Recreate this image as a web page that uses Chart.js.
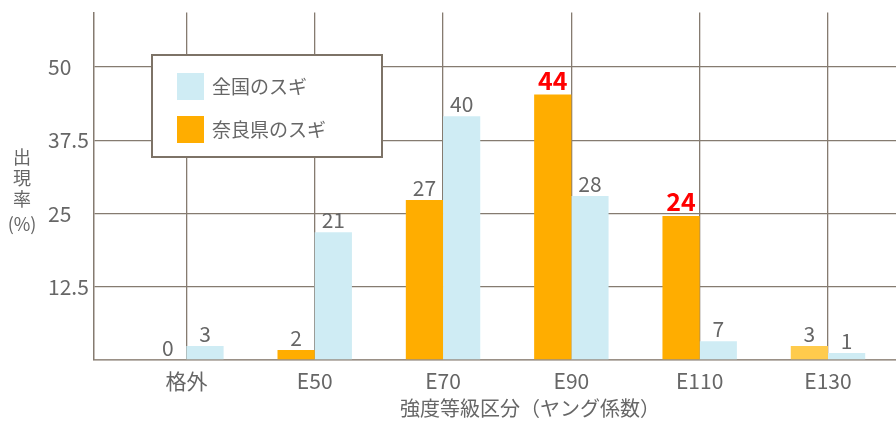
<!DOCTYPE html>
<html>
<head>
<meta charset="utf-8">
<script src="https://cdn.jsdelivr.net/npm/chart.js@4/dist/chart.umd.min.js"></script>
<style>
  html, body { margin: 0; padding: 0; background: #fff; }
  #wrap { width: 896px; height: 421px; position: relative; }
</style>
</head>
<body>
<div id="wrap"><canvas id="sugiChart"></canvas></div>
<script>
// 区分
const categories = ['格外', 'E50', 'E70', 'E90', 'E110', 'E130'];
// 棒の高さ
const naraValues = [0, 1.7, 27.3, 45.3, 24.6, 2.4];
const zenkokuValues = [2.4, 21.8, 41.6, 28.0, 3.2, 1.2];
// 棒の上の数値
const naraLabels = ['0', '2', '27', '44', '24', '3'];
const zenkokuLabels = ['3', '21', '40', '28', '7', '1'];
const naraHighlight = [false, false, false, true, true, false];
// 目盛
const yTicks = [12.5, 25, 37.5, 50];

const FONT = "'Noto Sans CJK JP', 'Noto Sans', sans-serif";
const TEXT = '#666666';
const GRID = '#857b70';

const naraColors = ['#FFAD00', '#FFAD00', '#FFAD00', '#FFAD00', '#FFAD00', '#FFCB4C'];

// 棒の上に数値を描く
const valueLabels = {
  id: 'valueLabels',
  afterDraw(chart) {
    const ctx = chart.ctx;
    const sets = [[naraLabels, naraHighlight], [zenkokuLabels, null]];
    ctx.save();
    ctx.textAlign = 'center';
    ctx.textBaseline = 'alphabetic';
    sets.forEach(([labels, hi], di) => {
      chart.getDatasetMeta(di).data.forEach((bar, i) => {
        const red = hi && hi[i];
        ctx.fillStyle = red ? '#ff0000' : TEXT;
        ctx.font = (red ? '600 25px ' : '21px ') + FONT;
        ctx.fillText(labels[i], bar.x, bar.y - (red ? 5 : 4));
      });
    });
    ctx.restore();
  }
};

// 凡例と軸タイトル
const extras = {
  id: 'extras',
  afterDraw(chart) {
    const ctx = chart.ctx;
    ctx.save();
    // 凡例
    ctx.fillStyle = '#fff';
    ctx.fillRect(152, 55, 230, 102);
    ctx.strokeStyle = '#7d7367';
    ctx.lineWidth = 2;
    ctx.strokeRect(152, 55, 230, 102);
    const items = [['全国のスギ', chart.data.datasets[1].backgroundColor], ['奈良県のスギ', '#FFAD00']];
    items.forEach(([txt, col], k) => {
      ctx.fillStyle = col;
      ctx.fillRect(177, 73 + k * 43, 27, 27);
      ctx.fillStyle = TEXT;
      ctx.font = '19px ' + FONT;
      ctx.textAlign = 'left';
      ctx.textBaseline = 'middle';
      ctx.fillText(txt, 212, 87 + k * 43);
    });
    // 縦軸タイトル
    ctx.fillStyle = TEXT;
    ctx.font = '18px ' + FONT;
    ctx.textAlign = 'center';
    ['出', '現', '率', '(%)'].forEach((t, k) => {
      ctx.fillText(t, 22, 157 + k * 21 + (k === 3 ? 4 : 0));
    });
    // 横軸タイトル
    ctx.font = '20px ' + FONT;
    ctx.fillText('強度等級区分（ヤング係数）', 530, 408);
    ctx.restore();
  }
};

new Chart(document.getElementById('sugiChart'), {
  type: 'bar',
  data: {
    datasets: [{
      label: '奈良県のスギ',
      data: categories.map((c, i) => ({ x: i, y: naraValues[i] })),
      backgroundColor: naraColors
    }, {
      label: '全国のスギ',
      data: categories.map((c, i) => ({ x: i, y: zenkokuValues[i] })),
      backgroundColor: '#CFECF4'
    }]
  },
  options: {
    responsive: true,
    maintainAspectRatio: false,
    animation: false,
    layout: { padding: { left: 48, top: 12, right: 0, bottom: 0 } },
    datasets: { bar: { categoryPercentage: 0.58, barPercentage: 1.0 } },
    plugins: { legend: { display: false }, tooltip: { enabled: false } },
    scales: {
      x: {
        type: 'linear',
        min: -0.72,
        max: 5.53,
        offset: false,
        z: 1,
        afterFit(scale) { scale.height = 61; },
        grid: { color: GRID, lineWidth: 1.3, drawTicks: false, offset: false },
        border: { color: '#9a9086', width: 1.5 },
        ticks: {
          stepSize: 1,
          includeBounds: false,
          padding: 8,
          color: TEXT,
          font: { family: FONT, size: 21 },
          callback: (v) => categories[v] ?? ''
        }
      },
      y: {
        min: 0,
        max: 59.3,
        z: 1,
        afterFit(scale) { scale.width = 46; },
        afterBuildTicks(scale) { scale.ticks = [0, ...yTicks].map(v => ({ value: v })); },
        grid: { color: GRID, lineWidth: 1.3, drawTicks: false },
        border: { color: GRID, width: 1.5 },
        ticks: {
          crossAlign: 'far',
          padding: 0,
          color: TEXT,
          font: { family: FONT, size: 21 },
          callback: (v) => (v === 0 ? '' : String(v))
        }
      }
    }
  },
  plugins: [valueLabels, extras]
});
</script>
</body>
</html>
